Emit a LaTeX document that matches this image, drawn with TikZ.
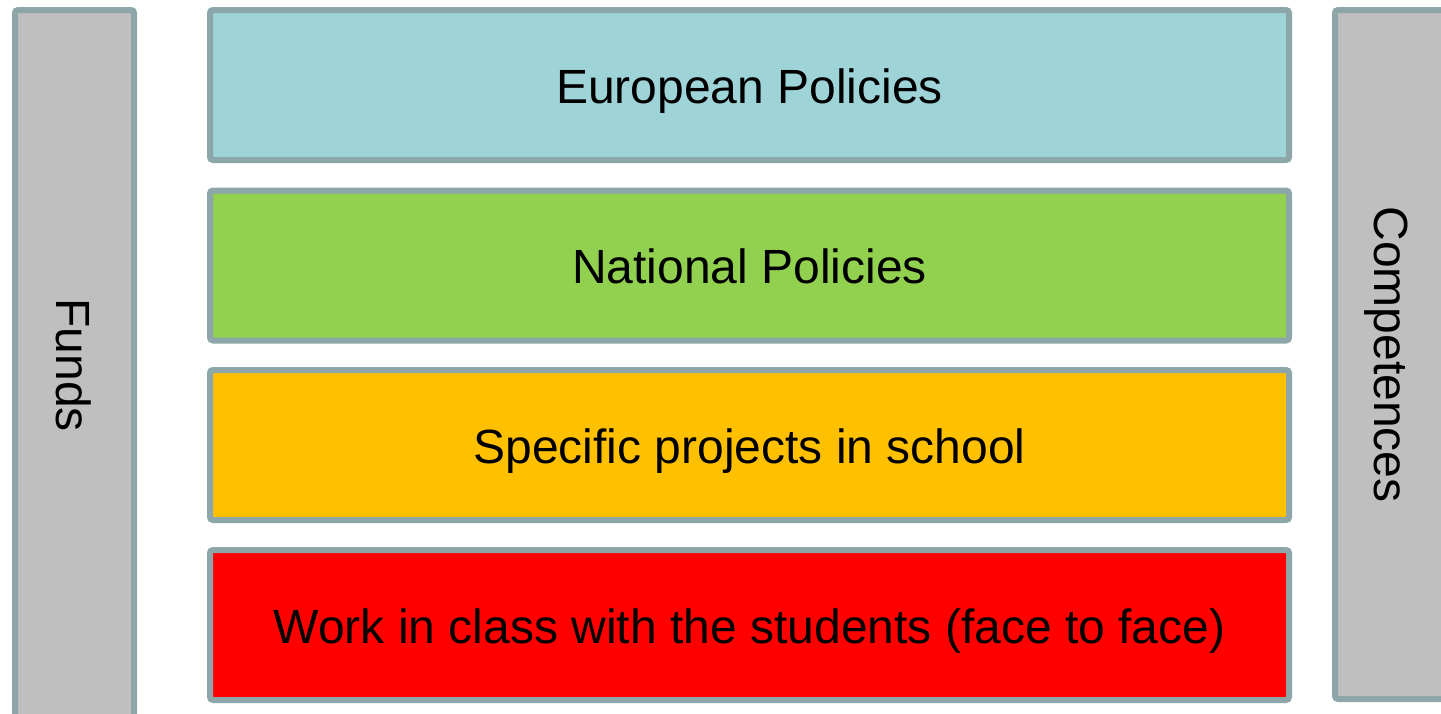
\documentclass[tikz,border=0pt]{standalone}
\usepackage{fontspec}
\setmainfont{Liberation Sans}
\usetikzlibrary{positioning}

\definecolor{edgegray}{HTML}{8CA6A9}
\definecolor{bargray}{HTML}{BFBFBF}
\definecolor{eucyan}{HTML}{9ED3D8}
\definecolor{natgreen}{HTML}{92D050}
\definecolor{schorange}{HTML}{FFC000}
\definecolor{classred}{HTML}{FF0000}

\tikzset{
    layer/.style={draw=edgegray, line width=3pt, rounded corners=1.5pt,
        minimum width=539.5pt, minimum height=75pt, inner sep=0pt,
        text height=18pt, text depth=0pt,
        font=\fontsize{24}{28}\selectfont},
    sidebar/.style={draw=edgegray, fill=bargray, line width=3pt, rounded corners=1.5pt,
        rotate=-90, inner sep=0pt, text height=18pt, text depth=0pt,
        font=\fontsize{24}{28}\selectfont}
}

\begin{document}
\begin{tikzpicture}[x=0.5pt, y=-0.5pt]

    \useasboundingbox (0,0) rectangle (1441,713);
    \clip (0,0) rectangle (1441,713);

    % side bars
    \node[sidebar, minimum width=355pt, minimum height=59.5pt] (funds) at (74.5,365) {Funds};
    \node[sidebar, minimum width=344.5pt, minimum height=57.5pt] (comp) at (1392.5,354.5) {Competences};

    % the four levels
    \node[layer, fill=eucyan] (eu) at (749.5,85) {European Policies};
    \node[layer, fill=natgreen] (nat) at (749.5,265.5) {National Policies};
    \node[layer, fill=schorange] (proj) at (749.5,445) {Specific projects in school};
    \node[layer, fill=classred] (cls) at (749.5,625) {Work in class with the students (face to face)};

\end{tikzpicture}
\end{document}
